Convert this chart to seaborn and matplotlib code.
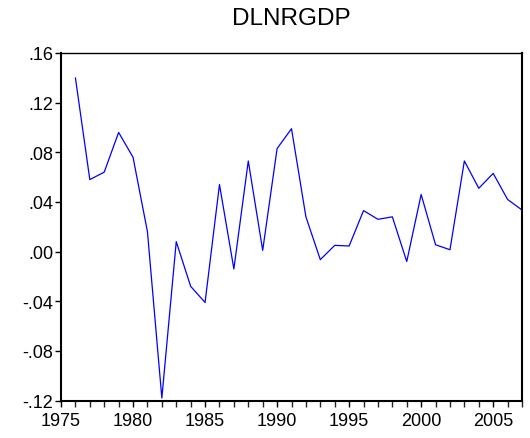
import matplotlib
matplotlib.use("Agg")
import matplotlib.pyplot as plt
import matplotlib.ticker as mticker
import seaborn as sns
import pandas as pd

years = list(range(1976, 2008))
dlnrgdp = [0.140, 0.058, 0.064, 0.096, 0.076, 0.016, -0.118, 0.008,
           -0.028, -0.041, 0.054, -0.014, 0.073, 0.001, 0.083, 0.099,
           0.028, -0.0065, 0.005, 0.0045, 0.033, 0.026, 0.028, -0.008,
           0.046, 0.0055, 0.0015, 0.073, 0.051, 0.063, 0.042, 0.0335]

y_ticks = [-0.12, -0.08, -0.04, 0.00, 0.04, 0.08, 0.12, 0.16]
x_ticks = [1975, 1980, 1985, 1990, 1995, 2000, 2005]

df = pd.DataFrame({"year": years, "DLNRGDP": dlnrgdp})

sns.set_style("ticks")
plt.rcParams["font.family"] = ["Liberation Sans", "DejaVu Sans"]

fig = plt.figure(figsize=(5.3, 4.39), dpi=100)
ax = fig.add_axes([0.1151, 0.0854, 0.8698, 0.7916])

sns.lineplot(data=df, x="year", y="DLNRGDP", color="#0000ff",
             linewidth=0.9, ax=ax)

ax.set_xlim(1975, 2007)
ax.set_ylim(-0.12, 0.16)
ax.set_xticks(x_ticks)
ax.xaxis.set_minor_locator(mticker.MultipleLocator(1))
ax.set_yticks(y_ticks)


def eviews_fmt(v, pos):
    s = f"{v:.2f}"
    if s.startswith("-0"):
        return "-" + s[2:]
    if s.startswith("0"):
        return s[1:]
    return s


ax.yaxis.set_major_formatter(mticker.FuncFormatter(eviews_fmt))

ax.tick_params(axis="both", which="major", direction="out", length=4,
               width=1.0, labelsize=13, colors="black", pad=1.5)
ax.tick_params(axis="x", which="minor", direction="out", length=4, width=1.0)
ax.tick_params(axis="x", which="major", pad=4.5)

for side in ["left", "bottom", "right"]:
    ax.spines[side].set_linewidth(1.5)
    ax.spines[side].set_color("black")
ax.spines["top"].set_linewidth(1.0)
ax.spines["top"].set_color("black")

ax.set_xlabel("")
ax.set_ylabel("")
ax.set_title("DLNRGDP", fontsize=17.5, pad=21, color="black")

fig.savefig("out.png", dpi=100)
plt.close(fig)
